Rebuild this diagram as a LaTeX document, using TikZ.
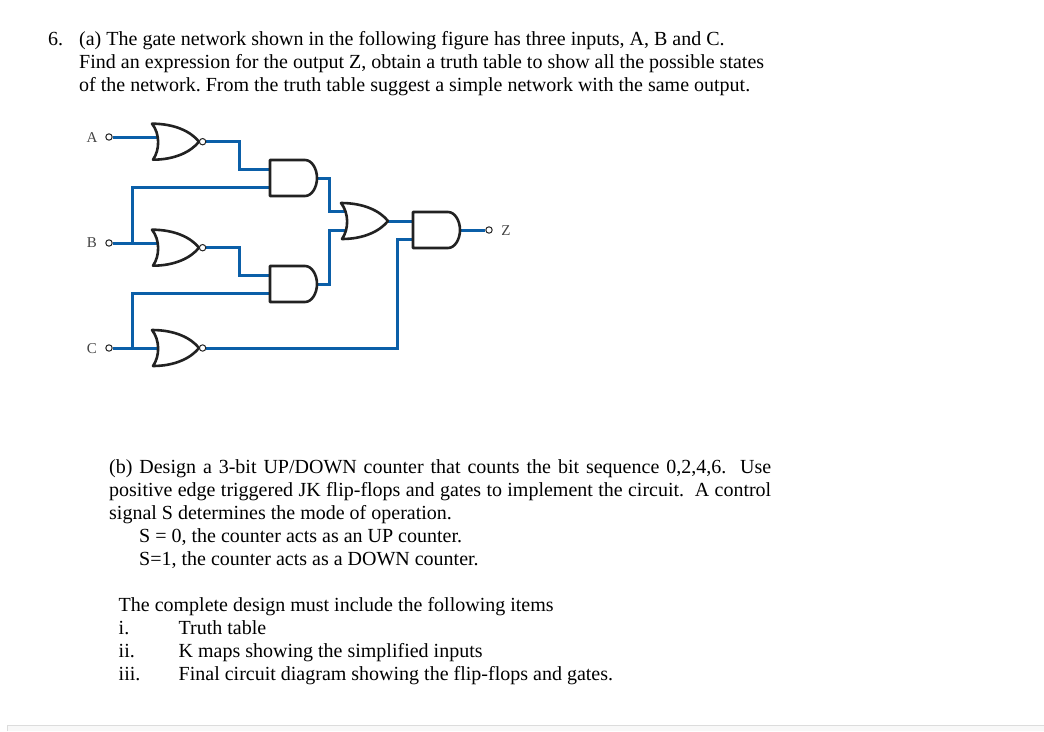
\documentclass[tikz,border=0pt]{standalone}
\usepackage{fontspec}
\usetikzlibrary{calc}
\setmainfont{Liberation Serif}
\pgfdeclarelayer{wires}
\pgfsetlayers{wires,main}
\definecolor{wireblue}{HTML}{0B5FA8}
\definecolor{gateink}{HTML}{222222}
\definecolor{labelink}{HTML}{444444}
\definecolor{barfill}{HTML}{F8F8F8}
\definecolor{barline}{HTML}{DCDCDC}
\newcommand{\txtsize}{\fontsize{20}{23}\selectfont\frenchspacing}
\tikzset{
  wire/.style={draw=wireblue,line width=3pt,line join=miter},
  gateline/.style={draw=gateink,line width=2.6pt,fill=white,line join=round},
  port/.style={circle,draw=gateink,fill=white,line width=1pt,inner sep=0pt,minimum size=6.4pt},
  pinlabel/.style={font=\fontsize{15}{16}\selectfont,text=labelink,inner sep=0pt},
  textline/.style={anchor=base west,inner sep=0pt,font=\txtsize},
  orshape/.pic={
    \draw[gateline] (-1,-18) .. controls (22,-18) and (38,-10) .. (46,0)
      .. controls (38,10) and (22,18) .. (0,18)
      .. controls (7,8) and (7,-8) .. cycle;
    \coordinate (-back) at (5,0);
    \coordinate (-in1) at (4,-10);
    \coordinate (-in2) at (4,9);
    \coordinate (-out) at (46,0);
  },
  andshape/.pic={
    \draw[gateline] (0,-18) -- (35,-18) .. controls (42,-18) and (47,-9) .. (47,0)
      .. controls (47,9) and (42,18) .. (35,18) -- (0,18) -- cycle;
    \coordinate (-in1) at (0,-9);
    \coordinate (-in2) at (0,9);
    \coordinate (-out) at (47,0);
  }
}
\begin{document}
\begin{tikzpicture}[x=1pt,y=-1pt]
\useasboundingbox (0,0) rectangle (1044,731);
% bottom bar
\fill[barfill] (7,725) rectangle (1044,731);
\draw[barline,line width=0.8pt] (7,731) -- (7,725) -- (1044,725);
% text
\node[textline] (t1a) at (48,45) {6.};
\node[textline] (t1b) at (79,45) {(a) The gate network shown in the following figure has three inputs, A, B and C.};
\node[textline] (t2) at (79,68) {Find an expression for the output Z, obtain a truth table to show all the possible states};
\node[textline] (t3) at (79,91) {of the network. From the truth table suggest a simple network with the same output.};
\node[textline] (t4) at (109,473) {\makebox[662pt][s]{(b) Design a 3-bit UP/DOWN counter that counts the bit sequence 0,2,4,6.\ \ Use}};
\node[textline] (t5) at (109,496) {\makebox[662pt][s]{positive edge triggered JK flip-flops and gates to implement the circuit.\ \ A control}};
\node[textline] (t6) at (109,519.5) {signal S determines the mode of operation.};
\node[textline] (t7) at (139,542) {S = 0, the counter acts as an UP counter.};
\node[textline] (t8) at (139,565) {S=1, the counter acts as a DOWN counter.};
\node[textline] (t9) at (118.5,611) {The complete design must include the following items};
\node[textline] (t10) at (118.5,634) {i.};
\node[textline] (t10b) at (178.5,634) {Truth table};
\node[textline] (t11) at (118.5,657) {ii.};
\node[textline] (t11b) at (178.5,657) {K maps showing the simplified inputs};
\node[textline] (t12) at (118.5,680) {iii.};
\node[textline] (t12b) at (178.5,680) {Final circuit diagram showing the flip-flops and gates.};
% gates
\pic (nA) at (153,141.7) {orshape};
\pic (nB) at (153,247.7) {orshape};
\pic (nC) at (153,348) {orshape};
\pic (g1) at (270,178) {andshape};
\pic (g2) at (270,284) {andshape};
\pic (or) at (342,221) {orshape};
\pic (g3) at (413,230) {andshape};
% bubbles and ports
\node[port] (bA) at ($(nA-out)+(3.6,0)$) {};
\node[port] (bB) at ($(nB-out)+(3.6,0)$) {};
\node[port] (bC) at ($(nC-out)+(3.6,0)$) {};
\node[port] (pA) at (109,137) {};
\node[port] (pB) at (109,243) {};
\node[port] (pC) at (109,348) {};
\node[port] (pZ) at (489,230) {};
\node[pinlabel] (lA) at (92,138) {A};
\node[pinlabel] (lB) at (92,243) {B};
\node[pinlabel] (lC) at (92,349) {C};
\node[pinlabel] (lZ) at (506,231) {Z};
\coordinate (jB) at (132,243);
\coordinate (jC) at (132,348);
\coordinate (cC) at (397,348);
\begin{pgfonlayer}{wires}
\draw[wire] (pA.east) -- (pA.east -| nA-back);
\draw[wire] (pB.east) -- (pB.east -| nB-back);
\draw[wire] (pC.east) -- (pC.east -| nC-back);
\draw[wire] (bA.east) -- ++(33,0) |- (g1-in1);
\draw[wire] (bB.east) -- ++(33,0) |- (g2-in1);
\draw[wire] (jB) |- (g1-in2);
\draw[wire] (jC) |- (g2-in2);
\draw[wire] (bC.east) -- (cC) |- (g3-in2);
\draw[wire] (g1-out) -- ++(12,0) |- (or-in1);
\draw[wire] (g2-out) -- ++(12,0) |- (or-in2);
\draw[wire] (or-out) -- (or-out -| g3-in1);
\draw[wire] (g3-out) -- (pZ.west);
\end{pgfonlayer}
\end{tikzpicture}
\end{document}
